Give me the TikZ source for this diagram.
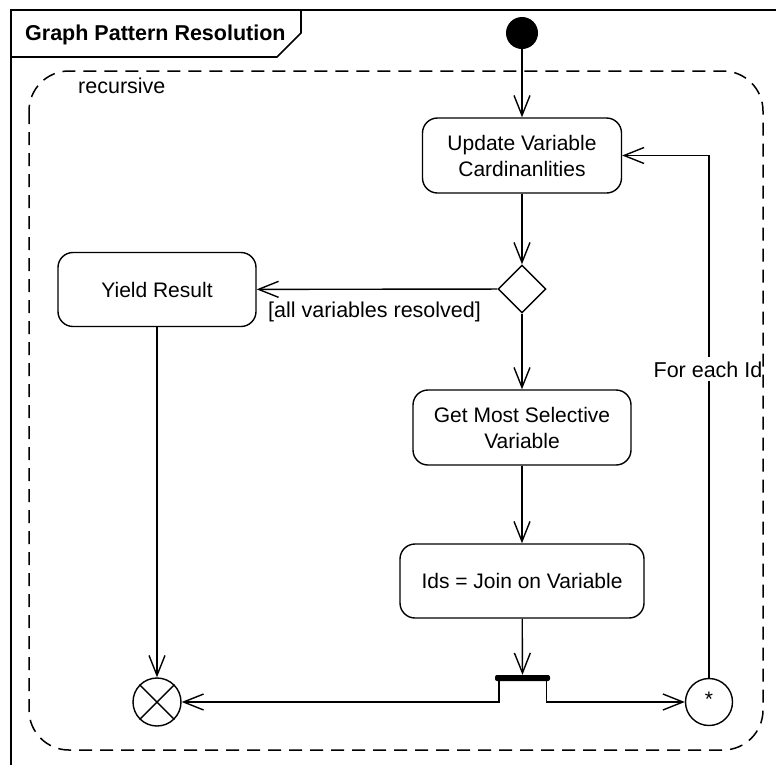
\documentclass[tikz,border=0pt]{standalone}
\usepackage{fontspec}
\setmainfont{Liberation Sans}
\usetikzlibrary{arrows.meta,shapes.geometric}

\tikzset{
  base/.style={line width=1.4pt},
  action/.style={base, draw, rounded corners=15pt, align=center, inner sep=0pt,
    font=\fontsize{21}{26}\selectfont},
  decision/.style={base, draw, diamond, minimum width=48pt, minimum height=48pt, inner sep=0pt},
  startnode/.style={circle, fill=black, minimum size=32pt, inner sep=0pt},
  endflow/.style={base, draw, circle, minimum size=48pt, inner sep=0pt},
  expansion/.style={base, draw, circle, minimum size=47pt, inner sep=0pt,
    font=\fontsize{21}{26}\selectfont},
  forkbar/.style={fill=black, rectangle, rounded corners=2pt, minimum width=55pt,
    minimum height=6pt, inner sep=0pt},
  flow/.style={base, -{Straight Barb[length=20pt,width=16pt,line width=1.4pt]}},
  lbl/.style={font=\fontsize{21.5}{26}\selectfont, inner sep=0pt},
  region/.style={line width=1.5pt, dash pattern=on 13pt off 8pt, rounded corners=40pt},
  frame/.style={line width=1.6pt},
}

\begin{document}
\begin{tikzpicture}[x=1pt,y=-1pt]
\useasboundingbox (0,0) rectangle (776,764);

% activity frame and its name tab
\draw[frame] (11,770) -- (11,10) -- (780,10);
\draw[frame] (11,57) -- (277,57) -- (301,33) -- (301,10);
\node[lbl, anchor=base west, font=\fontsize{21.5}{26}\selectfont\bfseries] (title) at (25,40) {Graph Pattern Resolution};

% nodes
\node[startnode] (init) at (522,33) {};
\node[action, minimum width=199pt, minimum height=75pt] (upd) at (522,155.5) {Update Variable\\Cardinanlities};
\node[decision] (dia) at (522,289) {};
\node[action, minimum width=198pt, minimum height=74pt] (yield) at (157,289.5) {Yield Result};
\node[action, minimum width=218pt, minimum height=75pt] (gms) at (522,427.5) {Get Most Selective\\Variable};
\node[action, minimum width=244pt, minimum height=74pt] (ids) at (522,581) {Ids = Join on Variable};
\node[forkbar] (fork) at (522.5,678) {};
\node[endflow] (fin) at (157,702) {};
\draw[base] (fin.north west) -- (fin.south east);
\draw[base] (fin.north east) -- (fin.south west);
\node[expansion] (star) at (709,702) {\raisebox{6pt}{*}};

% control flows
\draw[flow] (init) -- (upd);
\draw[flow] (upd) -- (dia);
\draw[flow] (dia) -- (yield);
\node[lbl, anchor=base west] (guard) at (268,317) {[all variables resolved]};
\draw[flow] (dia) -- (gms);
\draw[flow] (gms) -- (ids);
\draw[flow] (ids) -- (fork);
\draw[flow] ([xshift=4pt]fork.south west) |- (fin);
\draw[flow] ([xshift=-4pt]fork.south east) |- (star);
\draw[flow] (yield) -- (fin);
\draw[flow] (star) |- (upd);
\node[lbl, anchor=base, fill=white, inner ysep=4pt, inner xsep=1pt] (each) at (708,377) {For each Id};

% recursive expansion region
\draw[region] (29,71) rectangle (763,750);
\node[lbl, anchor=base west] (rec) at (78,93) {recursive};
\end{tikzpicture}
\end{document}
